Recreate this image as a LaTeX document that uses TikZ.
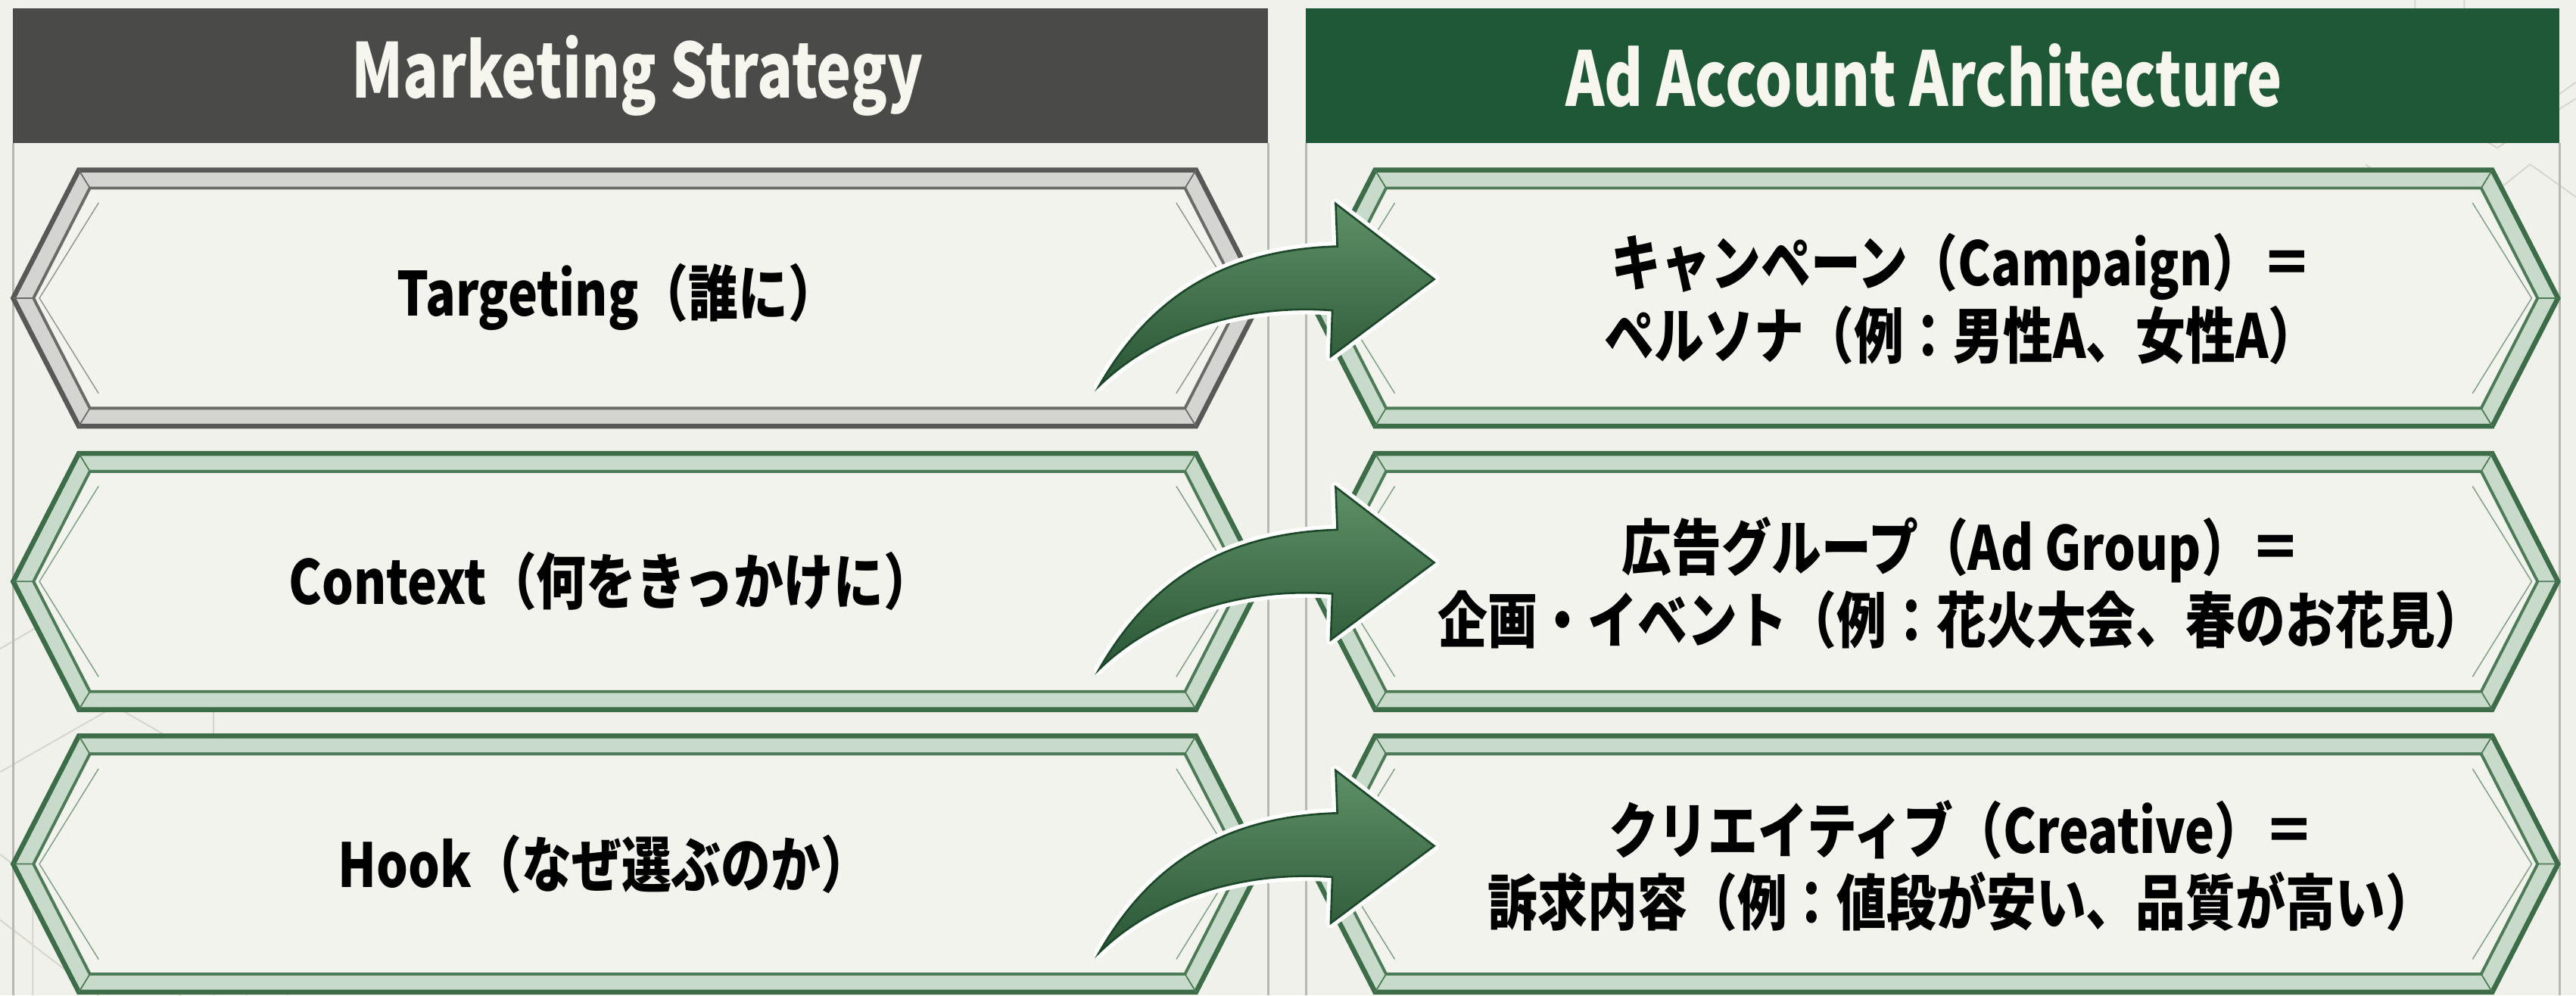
\documentclass[tikz,border=0pt]{standalone}
\usepackage{fontspec}
\newfontfamily\jp{Noto Sans CJK JP}[FakeStretch=0.82]
\newfontfamily\jphead{Noto Sans CJK JP}[FakeStretch=0.78]
\definecolor{bg}{HTML}{F1F1EB}
\definecolor{inbg}{HTML}{F3F3EE}
\definecolor{headgray}{HTML}{4A4A48}
\definecolor{headgreen}{HTML}{1F5836}
\definecolor{headtxt}{HTML}{F6F6EF}
\definecolor{grayout}{HTML}{585856}
\definecolor{grayband}{HTML}{D4D4D0}
\definecolor{grayin}{HTML}{6A6A66}
\definecolor{greenout}{HTML}{3C6C48}
\definecolor{greenband}{HTML}{C8DACA}
\definecolor{greenin}{HTML}{4D7A57}
\definecolor{panelline}{HTML}{B8B8B0}
\definecolor{deco}{HTML}{D6D6CE}
\definecolor{arrtop}{HTML}{5E9066}
\definecolor{arrmid}{HTML}{4C7E55}
\definecolor{arrbot}{HTML}{2A5636}
\definecolor{arrline}{HTML}{1C4729}
\tikzset{
  headtext/.style={text=headtxt, font=\jphead\bfseries\fontsize{46}{52}\selectfont, inner sep=0},
  boxtext/.style={text=black, font=\jp\bfseries\fontsize{37}{44}\selectfont, align=center, inner sep=0},
  decoline/.style={draw=deco, line width=0.9},
}
% #1 L, #2 R, #3 centre y, #4 colour prefix (gray/green)
\newcommand{\hexbox}[4]{%
  \draw[line width=3, draw=#4out, fill=#4band, line join=miter]
    (#1,#3) -- (#1+40,#3-78) -- (#2-40,#3-78) -- (#2,#3) -- (#2-40,#3+78) -- (#1+40,#3+78) -- cycle;
  \draw[line width=1.8, draw=#4in, fill=inbg]
    (#1+12.4,#3) -- (#1+46.7,#3-67) -- (#2-46.7,#3-67) -- (#2-12.4,#3) -- (#2-46.7,#3+67) -- (#1+46.7,#3+67) -- cycle;
  \draw[line width=0.8, draw=#4in]
    (#1,#3) -- (#1+12.4,#3) (#2,#3) -- (#2-12.4,#3)
    (#1+40,#3-78) -- (#1+46.7,#3-67) (#1+40,#3+78) -- (#1+46.7,#3+67)
    (#2-40,#3-78) -- (#2-46.7,#3-67) (#2-40,#3+78) -- (#2-46.7,#3+67);
  \draw[line width=0.7, draw=#4in!70]
    (#1+52,#3-58) -- (#1+16,#3) -- (#1+52,#3+58)
    (#2-52,#3-58) -- (#2-16,#3) -- (#2-52,#3+58);
}
% #1 vertical shift
\newcommand{\bigarrow}[1]{%
  \begin{scope}[yshift=-#1pt]
    \path[draw=white, line width=6, line join=round]
      (669,235) .. controls (700,181) and (745,152) .. (814,150) -- (813,124) -- (873,170) -- (810,217) -- (811,189)
      .. controls (760,185) and (705,200) .. (669,235) -- cycle;
    \path[top color=arrtop, middle color=arrmid, bottom color=arrbot, draw=arrline, line width=1.2, line join=miter]
      (669,235) .. controls (700,181) and (745,152) .. (814,150) -- (813,124) -- (873,170) -- (810,217) -- (811,189)
      .. controls (760,185) and (705,200) .. (669,235) -- cycle;
  \end{scope}
}
\begin{document}
\begin{tikzpicture}[x=1pt,y=-1pt]
\useasboundingbox (0,0) rectangle (1568,606);
\fill[bg] (0,0) rectangle (1568,606);
% faint background geometry
\draw[decoline] (0,395) -- (60,360) -- (130,400) -- (130,606);
\draw[decoline] (0,470) -- (70,430) -- (150,476) -- (150,606);
\draw[decoline] (20,606) -- (20,520) -- (95,476) -- (175,520) -- (175,606);
\draw[decoline] (0,560) -- (60,606);
\draw[decoline] (0,520) -- (110,606);
\draw[decoline] (1470,0) -- (1470,60) -- (1520,90) -- (1568,60);
\draw[decoline] (1500,0) -- (1500,45) -- (1540,70) -- (1568,50);
\draw[decoline] (1440,100) -- (1490,140) -- (1540,100) -- (1568,120);
\draw[decoline] (1490,140) -- (1490,200);
% panels
\draw[panelline, line width=1.4] (8,87) -- (8,606) (772,87) -- (772,606) (795,87) -- (795,606) (1558,87) -- (1558,606);
% headers
\fill[headgray] (8,5) rectangle (772,87);
\fill[headgreen] (795,5) rectangle (1558,87);
\node[headtext] (hl) at (388,46) {Marketing Strategy};
\node[headtext] (hr) at (1171,46) {Ad Account Architecture};
% left boxes
\hexbox{8}{768}{181.5}{gray}
\hexbox{8}{768}{354}{green}
\hexbox{8}{768}{526}{green}
% right boxes
\hexbox{797}{1557}{181.5}{green}
\hexbox{797}{1557}{354}{green}
\hexbox{797}{1557}{526}{green}
% texts
\node[boxtext] (l1) at (376,181) {Targeting（誰に）};
\node[boxtext] (l2) at (372,354) {Context（何をきっかけに）};
\node[boxtext] (l3) at (368,526) {Hook（なぜ選ぶのか）};
\node[boxtext] (r1) at (1194,182) {キャンペーン（Campaign）＝\\ペルソナ（例：男性A、女性A）};
\node[boxtext] (r2) at (1194,355) {広告グループ（Ad Group）＝\\企画・イベント（例：花火大会、春のお花見）};
\node[boxtext] (r3) at (1194,527) {クリエイティブ（Creative）＝\\訴求内容（例：値段が安い、品質が高い）};
% arrows
\bigarrow{0}
\bigarrow{172.5}
\bigarrow{345}
\end{tikzpicture}
\end{document}
